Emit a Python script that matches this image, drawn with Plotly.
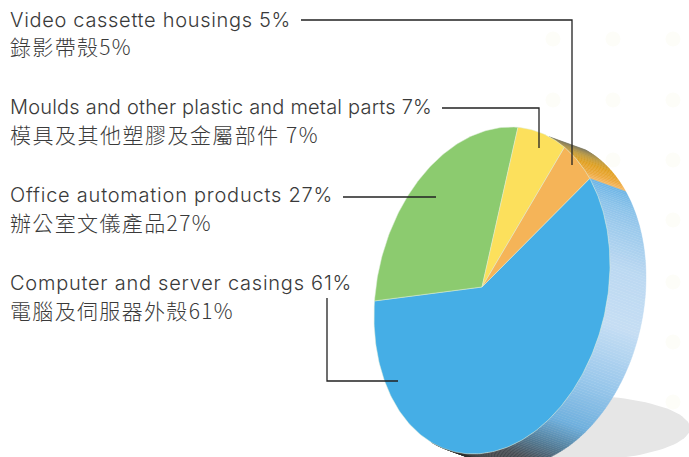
import json
import numpy as np
import plotly.graph_objects as go

W, H = 689, 457
categories = ["Computer and server casings", "Office automation products",
              "Moulds and other plastic and metal parts", "Video cassette housings"]
values = [61, 27, 7, 5]
face_colors = ["#45aee6", "#8ccb6f", "#fce05c", "#f5b458"]
label_en = ["Video cassette housings 5%", "Moulds and other plastic and metal parts 7%",
            "Office automation products 27%", "Computer and server casings 61%"]
label_zh = ["錄影帶殼5%", "模具及其他塑膠及金屬部件 7%", "辦公室文儀產品27%", "電腦及伺服器外殼61%"]
label_y_en = [20, 107, 195, 283]
label_y_zh = [46, 134, 222, 310]
width_en = [281, 422, 323, 342]
width_zh = [122, 309, 202, 224]
leaders_x = [[301, 572, 572], [442, 539, 539], [343, 436], [327, 327, 398]]
leaders_y = [[20, 20, 165], [108, 108, 148], [197, 197], [298, 381, 381]]
dot_x = [553, 613, 673, 553, 613, 673, 613, 673, 673, 673, 673, 673]
dot_y = [39, 39, 39, 100, 100, 100, 160, 160, 220, 282, 342, 402]

start_deg = 185.5
apex = (482, 287)
depth = (36, 13)

def ell(t_deg):
    t = np.radians(t_deg)
    return 492 + 118 * np.cos(t), 290.5 - 26 * np.cos(t) + 161.4 * np.sin(t)

def hexrgb(c):
    return np.array([int(c[i:i + 2], 16) for i in (1, 3, 5)], float)

def grad(t, stops):
    ts = [s[0] for s in stops]
    rgb = [np.interp(t, ts, [hexrgb(s[1])[i] for s in stops]) for i in range(3)]
    return "rgb(%d,%d,%d)" % tuple(rgb)

blue_stops = [(325, "#6ab4e6"), (335, "#8cc3ea"), (360, "#bcd9f2"), (380, "#c6def4"),
              (400, "#9cc9ec"), (420, "#6fb0de"), (432, "#55809c"), (445, "#4a4f55"), (470, "#333333")]
orange_stops = [(300, "#7a7660"), (310, "#c09a3a"), (316, "#e0a020"), (322, "#eda93c"), (326, "#f6bb6a")]

fig = go.Figure()

st = np.linspace(0, 360, 121)
fig.add_trace(go.Scatter(x=570 + 120 * np.cos(np.radians(st)), y=428 + 33 * np.sin(np.radians(st)),
                         mode="lines", fill="toself", fillcolor="#e6e6e6", line=dict(width=0),
                         hoverinfo="skip"))
fig.add_trace(go.Scatter(x=dot_x, y=dot_y, mode="markers", hoverinfo="skip",
                         marker=dict(size=15, color="#fdfdf8")))

a = start_deg
green_end = a + values[1] * 3.6
yellow_end = green_end + values[2] * 3.6
orange_end = yellow_end + values[3] * 3.6
blue_end = orange_end + values[0] * 3.6

rim = [(yellow_end - 9, orange_end, orange_stops), (orange_end, 480, blue_stops)]
for t0, t1, stops in rim:
    grid = np.arange(t0, t1 + 1.0, 1.0)
    for u, v in zip(grid[:-1], grid[1:]):
        x, y = ell(np.linspace(u, v, 3))
        xs = np.r_[x, (x + depth[0])[::-1], x[0]]
        ys = np.r_[y, (y + depth[1])[::-1], y[0]]
        col = grad((u + v) / 2, stops)
        fig.add_trace(go.Scatter(x=xs, y=ys, mode="lines", fill="toself", fillcolor=col,
                                 line=dict(width=0.4, color=col), hoverinfo="skip"))

spans = [(orange_end, blue_end, 0), (a, green_end, 1), (green_end, yellow_end, 2), (yellow_end, orange_end, 3)]
for t0, t1, idx in spans:
    x, y = ell(np.linspace(t0, t1, max(int(t1 - t0), 4)))
    fig.add_trace(go.Scatter(x=np.r_[apex[0], x, apex[0]], y=np.r_[apex[1], y, apex[1]],
                             mode="lines", fill="toself", fillcolor=face_colors[idx],
                             line=dict(width=0.5, color="#dcecd8"), name=categories[idx],
                             hovertemplate="%s %d%%<extra></extra>" % (categories[idx], values[idx])))

for lx, ly in zip(leaders_x, leaders_y):
    fig.add_trace(go.Scatter(x=lx, y=ly, mode="lines", line=dict(color="#222222", width=1.3),
                             hoverinfo="skip"))

anns = []
for txt, yy in zip(label_en, label_y_en):
    anns.append(dict(x=8, y=yy, text=txt, xref="x", yref="y", xanchor="left", yanchor="middle",
                     showarrow=False, font=dict(family="Inter", size=20, color="#3a3a3a", weight=300)))
for txt, yy in zip(label_zh, label_y_zh):
    anns.append(dict(x=8, y=yy, text=txt, xref="x", yref="y", xanchor="left", yanchor="middle",
                     showarrow=False, font=dict(family="Noto Sans CJK TC", size=21, color="#3a3a3a", weight=300)))

fig.update_layout(width=W, height=H, margin=dict(l=0, r=0, t=0, b=0), showlegend=False,
                  paper_bgcolor="white", plot_bgcolor="white", annotations=anns,
                  xaxis=dict(range=[0, W], visible=False, fixedrange=True),
                  yaxis=dict(range=[H, 0], visible=False, fixedrange=True))

targets = json.dumps(width_en + width_zh)
post = """
document.body.style.margin = '0';
var targets = %s;
document.querySelectorAll('.annotation-text').forEach(function (el, i) {
  var n = el.textContent.length;
  var w = el.getComputedTextLength();
  el.style.letterSpacing = ((targets[i] - w) / n) + 'px';
  var dx = 10 - el.getBoundingClientRect().left;
  el.setAttribute('x', parseFloat(el.getAttribute('x') || '0') + dx);
});
""" % targets
fig.write_html("out.html", config=dict(displayModeBar=False), post_script=post)
